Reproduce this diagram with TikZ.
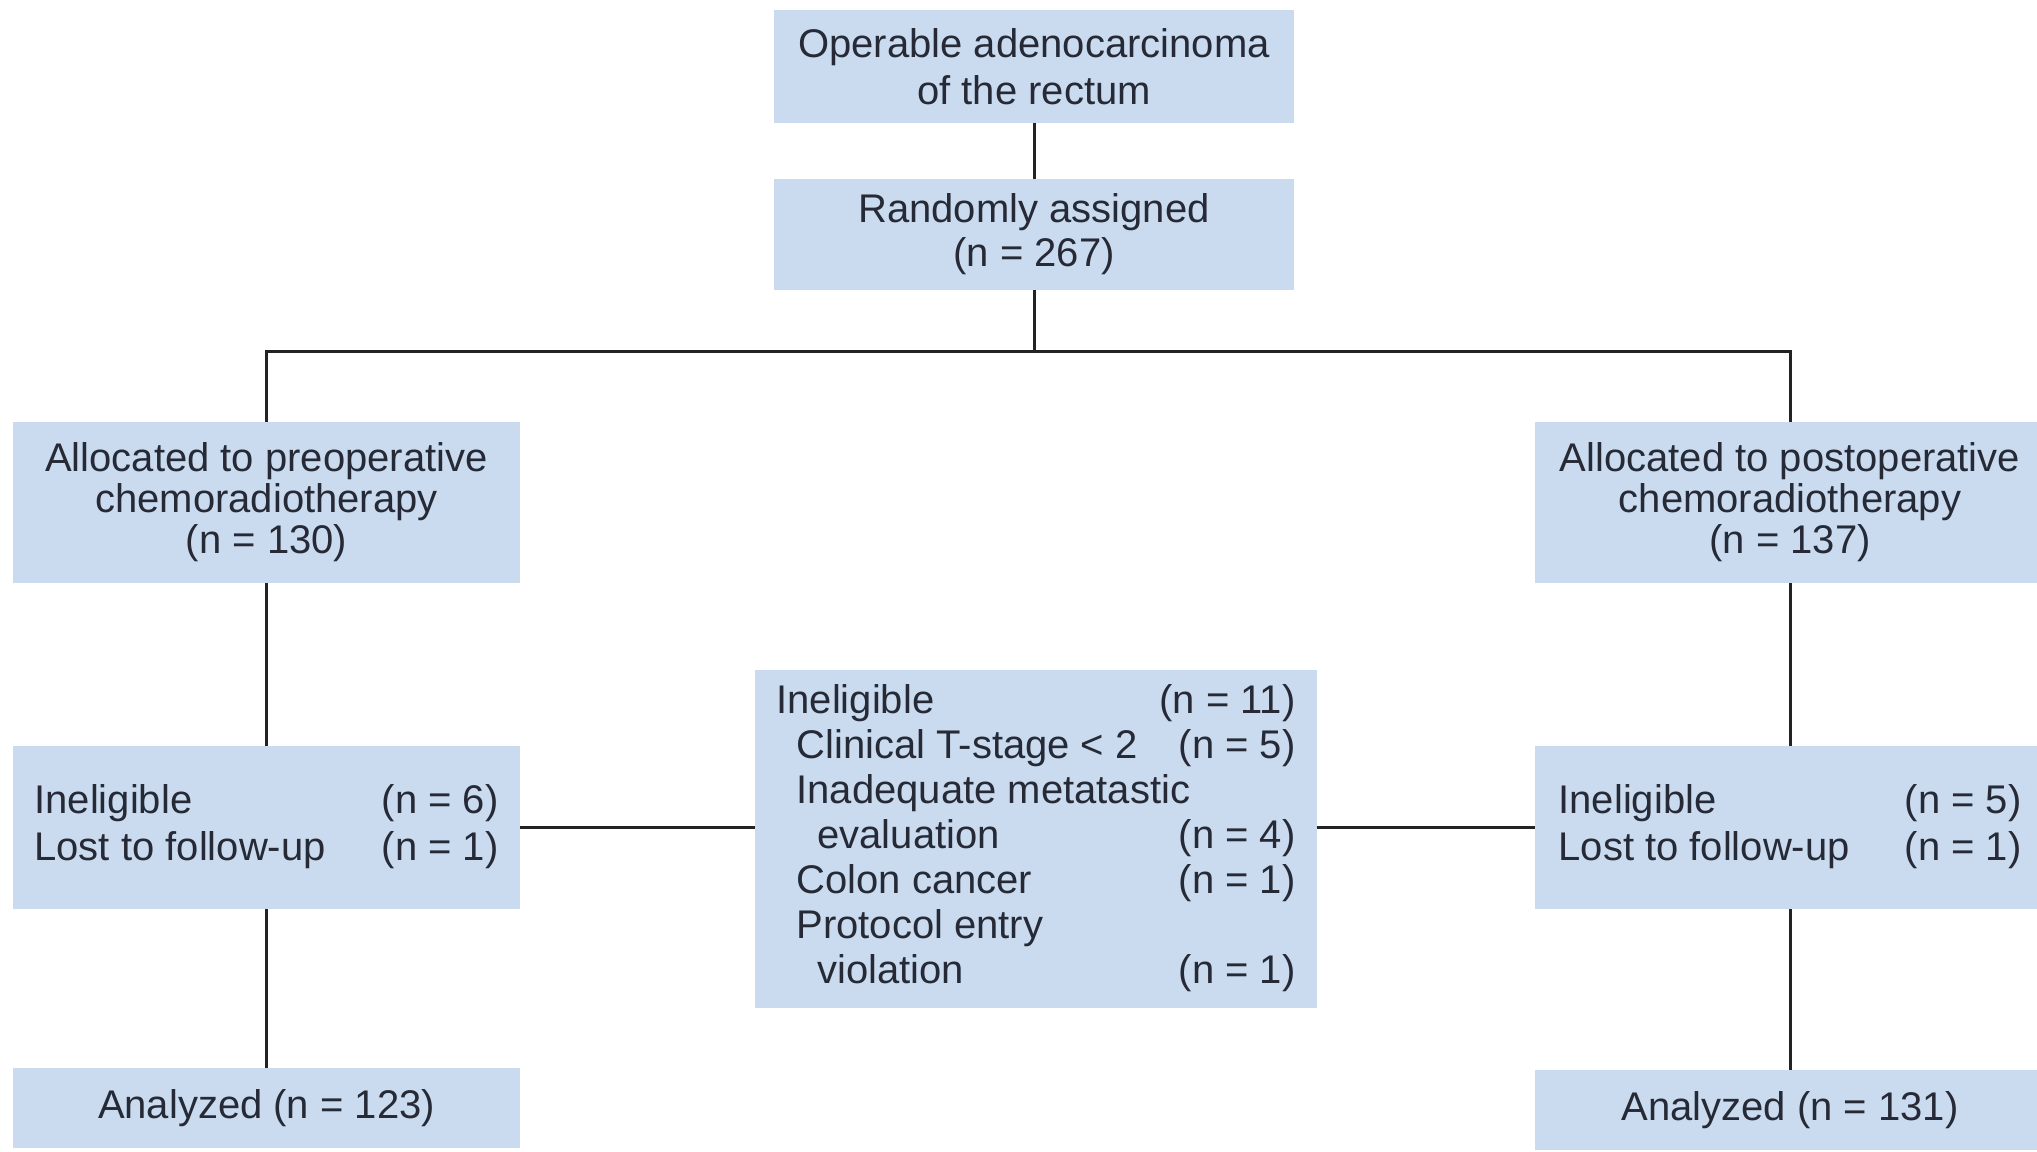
\documentclass[tikz,border=0pt]{standalone}
\usepackage{fontspec}
\setmainfont{Liberation Sans}
\definecolor{boxfill}{RGB}{202,219,239}
\definecolor{txt}{RGB}{38,42,54}
\definecolor{ln}{RGB}{35,35,35}
\begin{document}
\begin{tikzpicture}[x=0.5pt,y=-0.5pt,
 box/.style={fill=boxfill, draw=none, inner sep=0pt, text=txt, align=center, font=\fontsize{20}{23.5}\selectfont},
 tbox/.style={fill=boxfill, draw=none, inner sep=0pt, text=txt, font=\fontsize{20}{23.5}\selectfont},
 conn/.style={draw=ln, line width=1.5pt}]
\useasboundingbox (0,0) rectangle (2037,1151);
\clip (0,0) rectangle (2037,1151);
\fill[white] (0,0) rectangle (2037,1151);
\node[box, minimum width=260pt, minimum height=56.5pt] (top) at (1034,66.5) {Operable adenocarcinoma\\of the rectum};
\node[box, minimum width=260pt, minimum height=55.5pt, font=\fontsize{20}{22}\selectfont] (rand) at (1034,234.5) {Randomly assigned\\(n = 267)};
\node[box, minimum width=253.5pt, minimum height=80.5pt, font=\fontsize{20}{20.5}\selectfont] (lalloc) at (266.5,502.5) {Allocated to preoperative\\chemoradiotherapy\\(n = 130)};
\node[box, minimum width=255pt, minimum height=80.5pt, font=\fontsize{20}{20.5}\selectfont] (ralloc) at (1790,502.5) {Allocated to postoperative\\chemoradiotherapy\\(n = 137)};
\node[tbox, minimum width=253.5pt, minimum height=81.5pt] (linel) at (266.5,827.5) {\begin{tabular*}{232pt}{@{}l@{\extracolsep{\fill}}r@{}}Ineligible & (n = 6)\\ Lost to follow-up & (n = 1)\end{tabular*}};
\node[tbox, minimum width=255pt, minimum height=81.5pt] (rinel) at (1790,827.5) {\begin{tabular*}{231.5pt}{@{}l@{\extracolsep{\fill}}r@{}}Ineligible & (n = 5)\\ Lost to follow-up & (n = 1)\end{tabular*}};
\node[tbox, minimum width=281pt, minimum height=169pt, font=\fontsize{20}{22.5}\selectfont] (cen) at (1036,839) {\begin{tabular*}{259.5pt}{@{}l@{\extracolsep{\fill}}r@{}}
Ineligible & (n = 11)\\
\hspace{10pt}Clinical T-stage < 2 & (n = 5)\\
\multicolumn{2}{@{}l@{}}{\hspace{10pt}Inadequate metatastic}\\
\hspace{20.5pt}evaluation & (n = 4)\\
\hspace{10pt}Colon cancer & (n = 1)\\
\multicolumn{2}{@{}l@{}}{\hspace{10pt}Protocol entry}\\
\hspace{20.5pt}violation & (n = 1)
\end{tabular*}};
\node[box, minimum width=253.5pt, minimum height=40pt] (lana) at (266.5,1108) {Analyzed (n = 123)};
\node[box, minimum width=255pt, minimum height=40pt] (rana) at (1790,1110) {Analyzed (n = 131)};
\coordinate (split) at (1034,351);
\draw[conn] (top) -- (rand);
\draw[conn] (rand) -- (split);
\draw[conn] (lalloc.north) |- (split) -| (ralloc.north);
\draw[conn] (lalloc) -- (linel);
\draw[conn] (ralloc) -- (rinel);
\draw[conn] (linel) -- (lana);
\draw[conn] (rinel) -- (rana);
\draw[conn] (linel.east) -- (linel.east -| cen.west);
\draw[conn] (rinel.west) -- (rinel.west -| cen.east);
\end{tikzpicture}
\end{document}
